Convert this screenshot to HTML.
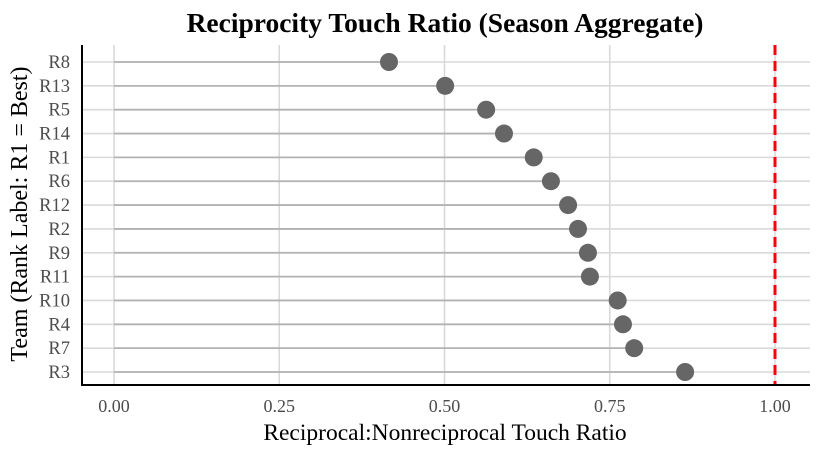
<!DOCTYPE html>
<html><head><meta charset="utf-8"><style>
body{margin:0;background:#fff}
svg{display:block;font-family:"Liberation Serif",serif}
</style></head><body>
<svg id="chart" width="820" height="453">
<text x="445" y="32" text-anchor="middle" font-size="27.5" font-weight="bold">Reciprocity Touch Ratio (Season Aggregate)</text>
<g id="grid"></g><g id="marks"></g><g id="axes"></g>
<text x="445" y="440" text-anchor="middle" font-size="23.5">Reciprocal:Nonreciprocal Touch Ratio</text>
<text transform="translate(27,214) rotate(-90)" text-anchor="middle" font-size="24">Team (Rank Label: R1 = Best)</text>
</svg>
<script>
const teams=["R8","R13","R5","R14","R1","R6","R12","R2","R9","R11","R10","R4","R7","R3"];
const ratios=[0.416,0.501,0.563,0.590,0.635,0.661,0.687,0.702,0.717,0.720,0.762,0.770,0.787,0.864];
const xTicks=[0,0.25,0.5,0.75,1.0];
const xTickLabels=["0.00","0.25","0.50","0.75","1.00"];
const refValue=1.0;
const NS="http://www.w3.org/2000/svg";
const x=v=>114+v*661;
const y=i=>62+i*(310/13);
function mk(parent,tag,attrs){const e=document.createElementNS(NS,tag);for(const k in attrs)e.setAttribute(k,attrs[k]);document.getElementById(parent).appendChild(e);return e;}
xTicks.forEach((t,i)=>{
 const g=mk("grid","line",{x1:x(t),x2:x(t),y1:45,y2:384,stroke:"#d9d9d9","stroke-width":1.6});
 
 
 const l=mk("axes","text",{x:x(t),y:412,"text-anchor":"middle","font-size":18,fill:"#4d4d4d"});
 l.textContent=xTickLabels[i];
 
 
});
teams.forEach((t,i)=>{
 const g=mk("grid","line",{x1:82,x2:810,y1:y(i),y2:y(i),stroke:"#d9d9d9","stroke-width":1.6});
 
 
 const s=mk("marks","line",{x1:x(0),x2:x(ratios[i]),y1:y(i),y2:y(i),stroke:"#b3b3b3","stroke-width":1.8});
 
 
 const c=mk("marks","circle",{cx:x(ratios[i]),cy:y(i),r:9,fill:"#666666"});
 
 
 const l=mk("axes","text",{x:70,y:y(i)+6,"text-anchor":"end","font-size":18.5,fill:"#4d4d4d"});
 l.textContent=t;
 
 
});
const r=mk("marks","line",{x1:x(refValue),x2:x(refValue),y1:45,y2:384,stroke:"#ff0000","stroke-width":3,"stroke-dasharray":"10 6"});


const ax=mk("axes","line",{x1:82,x2:82,y1:45,y2:385,stroke:"#000","stroke-width":2});


const bx=mk("axes","line",{x1:81,x2:810,y1:385,y2:385,stroke:"#000","stroke-width":2});


</script>
</body></html>
